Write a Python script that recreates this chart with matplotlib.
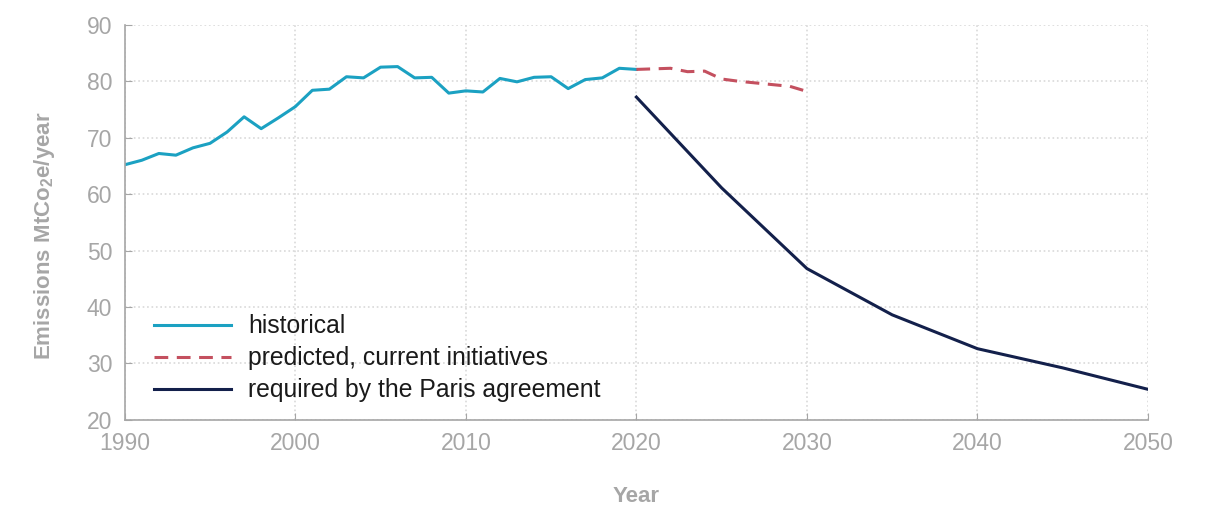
import matplotlib.pyplot as plt

plt.rcParams['font.family'] = ['Liberation Sans', 'DejaVu Sans']

hist_years = list(range(1990, 2021))
hist_values = [65.2, 66.0, 67.2, 66.9, 68.2, 69.0, 71.0, 73.7, 71.6, 73.5,
               75.5, 78.4, 78.6, 80.8, 80.6, 82.5, 82.6, 80.6, 80.7, 77.9,
               78.3, 78.1, 80.5, 79.9, 80.7, 80.8, 78.7, 80.3, 80.6, 82.3,
               82.1]

pred_years = list(range(2020, 2031))
pred_values = [82.1, 82.2, 82.3, 81.7, 81.8, 80.4, 80.0, 79.7, 79.4, 79.1, 78.2]

paris_years = [2020, 2025, 2030, 2035, 2040, 2045, 2050]
paris_values = [77.2, 61.1, 46.8, 38.6, 32.6, 29.2, 25.4]

GRAY = '#a6a6a6'

fig = plt.figure(figsize=(12.11, 5.07), dpi=100)
ax = fig.add_axes([0.103, 0.172, 0.845, 0.779])

ax.plot(hist_years, hist_values, color='#1ba1c2', lw=2.2, label='historical')
ax.plot(pred_years, pred_values, color='#c4505f', lw=2.2, ls=(0, (4.5, 2.8)),
        label='predicted, current initiatives')
ax.plot(paris_years, paris_values, color='#13204b', lw=2.2,
        label='required by the Paris agreement')

ax.set_xlim(1990, 2050)
ax.set_ylim(20, 90)
ax.set_xticks(range(1990, 2051, 10))
ax.set_yticks(range(20, 91, 10))
ax.grid(True, color='#d9d9d9', ls=':', lw=1.2)

for s in ['top', 'right']:
    ax.spines[s].set_visible(False)
for s in ['left', 'bottom']:
    ax.spines[s].set_color(GRAY)
    ax.spines[s].set_linewidth(1.2)

ax.tick_params(direction='in', length=5, color=GRAY, labelcolor=GRAY,
               labelsize=16.5)
ax.tick_params(axis='y', pad=9)
ax.tick_params(axis='x', pad=9)

ax.set_xlabel('Year', fontsize=16, fontweight='bold', color=GRAY, labelpad=22)
ax.set_ylabel('Emissions MtCo$_\\mathregular{2}$e/year', fontsize=16,
              fontweight='bold', color=GRAY)
ax.yaxis.set_label_coords(-0.066, 0.465)

ax.legend(loc='lower left', bbox_to_anchor=(0.007, -0.012), frameon=False,
          fontsize=17.8, handlelength=3.1, handletextpad=0.7,
          labelspacing=0.32, labelcolor='#1a1a1a')

plt.savefig('out.png', dpi=100)
